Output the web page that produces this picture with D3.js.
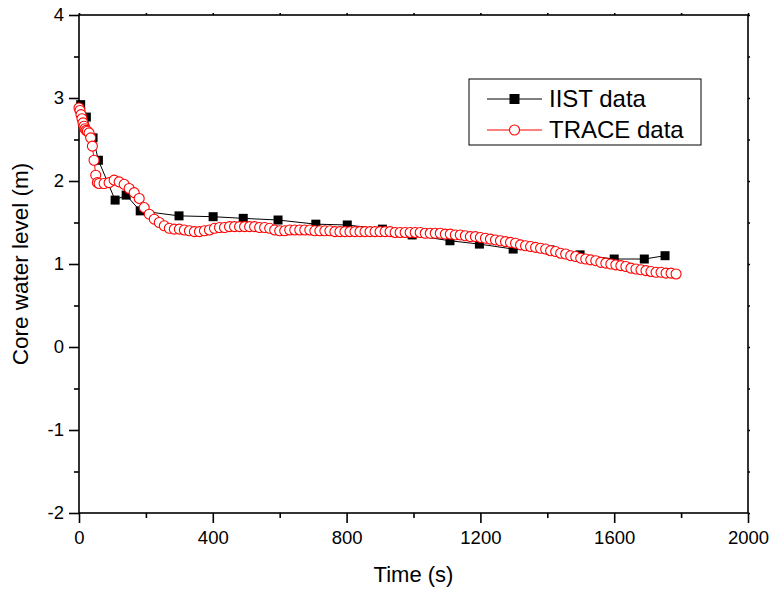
<html>
<head>
<meta charset="utf-8">
<script src="https://d3js.org/d3.v7.min.js"></script>
<style>
  body { margin: 0; background: #fff; }
  text { font-family: Arial, "Liberation Sans", sans-serif; }
</style>
</head>
<body>
<div id="chart"></div>
<script>
// IIST measured data
var iistTime = [5, 22, 42, 58, 108, 141, 183, 299, 401, 491, 595, 708, 802, 907, 996, 1109, 1197, 1298, 1408, 1498, 1600, 1690, 1752];
var iistLevel = [2.92, 2.77, 2.52, 2.25, 1.77, 1.83, 1.64, 1.58, 1.57, 1.55, 1.53, 1.48, 1.47, 1.42, 1.35, 1.28, 1.24, 1.18, 1.17, 1.11, 1.06, 1.06, 1.10];

// TRACE calculation
var traceTime = [0, 3, 6, 9, 12, 15, 18, 21, 25, 30, 35, 40, 45, 50, 55, 60,
  75, 90, 105, 120, 135, 150, 165, 180, 195, 210, 225, 240, 255, 270, 285, 300,
  315, 330, 345, 360, 375, 390, 405, 420, 435, 450, 465, 480, 495, 510, 525, 540,
  555, 570, 585, 600, 615, 630, 645, 660, 675, 690, 705, 720, 735, 750, 765, 780,
  795, 810, 825, 840, 855, 870, 885, 900, 915, 930, 945, 960, 975, 990, 1005, 1020,
  1035, 1050, 1065, 1080, 1095, 1110, 1125, 1140, 1155, 1170, 1185, 1200, 1215, 1230, 1245, 1260,
  1275, 1290, 1305, 1320, 1335, 1350, 1365, 1380, 1395, 1410, 1425, 1440, 1455, 1470, 1485, 1500,
  1515, 1530, 1545, 1560, 1575, 1590, 1605, 1620, 1635, 1650, 1665, 1680, 1695, 1710, 1725, 1740,
  1755, 1770, 1785];
var traceLevel = [2.88, 2.85, 2.80, 2.75, 2.70, 2.66, 2.63, 2.61, 2.60, 2.58, 2.52, 2.42, 2.25, 2.07, 1.98, 1.97,
  1.97, 1.98, 2.01, 1.99, 1.96, 1.91, 1.86, 1.79, 1.68, 1.60, 1.54, 1.50, 1.46, 1.43, 1.42, 1.42,
  1.41, 1.40, 1.39, 1.39, 1.40, 1.41, 1.43, 1.44, 1.44, 1.45, 1.45, 1.45, 1.45, 1.45, 1.45, 1.44,
  1.44, 1.43, 1.41, 1.40, 1.40, 1.41, 1.41, 1.41, 1.41, 1.41, 1.40, 1.40, 1.40, 1.40, 1.39, 1.39,
  1.39, 1.39, 1.39, 1.39, 1.39, 1.39, 1.39, 1.39, 1.39, 1.39, 1.38, 1.38, 1.38, 1.38, 1.38, 1.38,
  1.37, 1.37, 1.37, 1.37, 1.36, 1.36, 1.35, 1.35, 1.34, 1.33, 1.33, 1.32, 1.31, 1.30, 1.29, 1.28,
  1.27, 1.26, 1.25, 1.23, 1.22, 1.21, 1.20, 1.19, 1.18, 1.16, 1.15, 1.13, 1.12, 1.10, 1.09, 1.07,
  1.06, 1.05, 1.04, 1.02, 1.01, 1.00, 0.99, 0.98, 0.97, 0.95, 0.94, 0.93, 0.92, 0.91, 0.90, 0.90,
  0.89, 0.89, 0.88];

var xTicks = [0, 400, 800, 1200, 1600, 2000];
var yTicks = [-2, -1, 0, 1, 2, 3, 4];
var seriesNames = ["IIST data", "TRACE data"];

var W = 773, H = 594;
var m = {left: 79, right: 25, top: 15, bottom: 81};

var svg = d3.select("#chart").append("svg")
    .attr("width", W).attr("height", H);

var x = d3.scaleLinear().domain([0, 2000]).range([m.left, W - m.right]);
var y = d3.scaleLinear().domain([-2, 4]).range([H - m.bottom, m.top]);

// minor ticks
var xMinor = d3.range(200, 2000, 400);
var yMinor = d3.range(-1.5, 4, 1);
var plain = function(d) { return String(d); };

// bottom axis
svg.append("g").attr("transform", "translate(0," + y(-2) + ")")
    .call(d3.axisBottom(x).tickValues(xTicks).tickSize(10).tickPadding(8).tickFormat(plain));
svg.append("g").attr("transform", "translate(0," + y(-2) + ")")
    .call(d3.axisBottom(x).tickValues(xMinor).tickSize(5).tickFormat(""));

// left axis
svg.append("g").attr("transform", "translate(" + x(0) + ",0)")
    .call(d3.axisLeft(y).tickValues(yTicks).tickSize(10).tickPadding(5).tickFormat(plain));
svg.append("g").attr("transform", "translate(" + x(0) + ",0)")
    .call(d3.axisLeft(y).tickValues(yMinor).tickSize(5).tickFormat(""));

// top and right frame ticks
svg.append("g").attr("transform", "translate(0," + y(4) + ")")
    .call(d3.axisTop(x).tickValues(xTicks.concat(xMinor)).tickSize(2).tickFormat(""));
svg.append("g").attr("transform", "translate(" + x(2000) + ",0)")
    .call(d3.axisRight(y).tickValues(yTicks.concat(yMinor)).tickSize(2).tickFormat(""));

svg.selectAll("path.domain").remove();
svg.selectAll(".tick line").attr("stroke", "#000").attr("stroke-width", 1.6);
svg.selectAll(".tick text").attr("font-size", 18.5).attr("fill", "#000")
    .style("font-family", "Arial, 'Liberation Sans', sans-serif");

svg.append("rect")
    .attr("x", x(0)).attr("y", y(4))
    .attr("width", x(2000) - x(0)).attr("height", y(-2) - y(4))
    .attr("fill", "none").attr("stroke", "#000").attr("stroke-width", 1.6);

// axis titles
svg.append("text")
    .attr("x", (x(0) + x(2000)) / 2).attr("y", 582)
    .attr("text-anchor", "middle").attr("font-size", 22)
    .text("Time (s)");
svg.append("text")
    .attr("transform", "translate(28," + ((y(4) + y(-2)) / 2) + ") rotate(-90)")
    .attr("text-anchor", "middle").attr("font-size", 22.5)
    .text("Core water level (m)");

var iist = iistTime.map(function(t, i) { return [t, iistLevel[i]]; });
var trace = traceTime.map(function(t, i) { return [t, traceLevel[i]]; });

var line = d3.line().x(function(d) { return x(d[0]); }).y(function(d) { return y(d[1]); });

// IIST
svg.append("path").datum(iist).attr("d", line)
    .attr("fill", "none").attr("stroke", "#000").attr("stroke-width", 1);
svg.selectAll(".sq").data(iist).enter().append("rect")
    .attr("x", function(d) { return x(d[0]) - 4.5; })
    .attr("y", function(d) { return y(d[1]) - 4.5; })
    .attr("width", 9).attr("height", 9).attr("fill", "#000");

// TRACE
svg.append("path").datum(trace).attr("d", line)
    .attr("fill", "none").attr("stroke", "#ff0000").attr("stroke-width", 1);
svg.selectAll(".ci").data(trace).enter().append("circle")
    .attr("cx", function(d) { return x(d[0]); })
    .attr("cy", function(d) { return y(d[1]); })
    .attr("r", 5).attr("fill", "#fff").attr("stroke", "#ff0000").attr("stroke-width", 1.1);

// legend
var lg = svg.append("g");
lg.append("rect").attr("x", 469).attr("y", 79).attr("width", 232).attr("height", 66)
    .attr("fill", "#fff").attr("stroke", "#000").attr("stroke-width", 1);
lg.append("line").attr("x1", 487).attr("x2", 542).attr("y1", 99).attr("y2", 99)
    .attr("stroke", "#000").attr("stroke-width", 1);
lg.append("rect").attr("x", 509.5).attr("y", 94).attr("width", 10).attr("height", 10).attr("fill", "#000");
lg.append("line").attr("x1", 487).attr("x2", 542).attr("y1", 130).attr("y2", 130)
    .attr("stroke", "#ff0000").attr("stroke-width", 1);
lg.append("circle").attr("cx", 514.5).attr("cy", 130).attr("r", 5)
    .attr("fill", "#fff").attr("stroke", "#ff0000").attr("stroke-width", 1.1);
lg.selectAll(".lt").data(seriesNames).enter().append("text")
    .attr("x", 549).attr("y", function(d, i) { return 107 + i * 31; })
    .attr("font-size", 24).text(function(d) { return d; });
</script>
</body>
</html>
